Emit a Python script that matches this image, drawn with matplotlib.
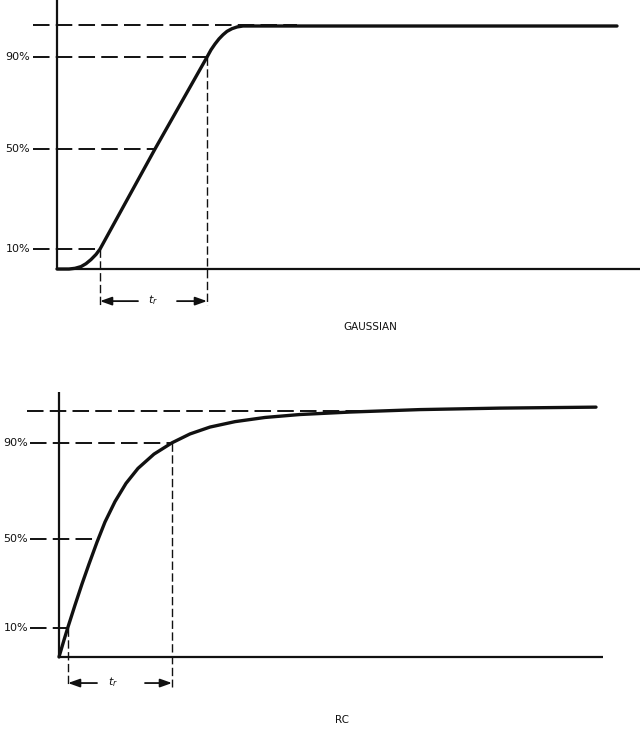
import matplotlib
matplotlib.use("Agg")
import matplotlib.pyplot as plt

# step responses (t in arbitrary units, v in % of final value)
gauss_t = [0.0, 1.2, 1.8, 2.4, 2.9, 3.4, 3.9, 4.3, 9.8, 15.0, 15.4, 15.8, 16.2,
           16.6, 17.0, 17.5, 18.0, 18.6, 56.0]
gauss_v = [0.0, 0.0, 0.3, 1.0, 2.2, 3.9, 6.0, 8.2, 49.4, 87.2, 90.2, 92.6, 94.7,
           96.4, 97.8, 98.9, 99.6, 100.0, 100.0]

rc_t = [0.0, 0.5, 0.9, 1.6, 2.3, 3.0, 3.8, 4.6, 5.6, 6.7, 7.9, 9.5, 11.3, 13.1,
        15.1, 17.6, 20.6, 24.1, 29.1, 36.1, 44.1, 53.7]
rc_v = [0.0, 6.9, 12.2, 21.1, 29.7, 37.8, 46.7, 54.9, 63.2, 70.6, 76.7, 82.5,
        87.1, 90.7, 93.5, 95.7, 97.4, 98.6, 99.6, 100.6, 101.2, 101.6]

level_labels = ["10%", "50%", "90%"]
gauss_levels = [8.2, 49.4, 87.2]
gauss_cross = [4.3, 9.8, 15.0]
rc_levels = [11.8, 48.0, 87.0]
rc_cross = [0.9, 3.95, 11.3]

gauss_final = 100.4
rc_final = 100.0

INK = "#111111"
DASH_H = (8.5, 3.2)
DASH_V = (6.0, 2.5)


def draw_panel(ax, t, v, levels, cross, final, final_span, dash_x0, label_x,
               axis_top, base_end, arrow_y, tail_l, tail_r, tr_x, name, name_xy):
    ax.set_axis_off()

    # axes drawn as plain lines
    ax.plot([0, 0], [0, axis_top], color=INK, lw=1.6, solid_capstyle="butt")
    ax.plot([0, base_end], [0, 0], color=INK, lw=1.6, solid_capstyle="butt")

    # final value reference
    ax.plot(final_span, [final, final], color=INK, lw=1.4, dashes=DASH_H)

    # level lines and labels
    for lab, lev, tx in zip(level_labels, levels, cross):
        ax.plot([dash_x0, tx], [lev, lev], color=INK, lw=1.4, dashes=DASH_H)
        ax.text(label_x, lev, lab, ha="right", va="center", fontsize=8,
                color=INK, family="DejaVu Sans")

    # response curve
    ax.plot(t, v, color=INK, lw=2.4, solid_joinstyle="round",
            solid_capstyle="round", zorder=5)

    # rise time markers
    t10, t90 = cross[0], cross[-1]
    lo = arrow_y - 1.8
    ax.plot([t10, t10], [levels[0], lo], color=INK, lw=1.0, dashes=DASH_V)
    ax.plot([t90, t90], [levels[-1], lo], color=INK, lw=1.0, dashes=DASH_V)
    arrow = dict(arrowstyle="-|>,head_length=0.7,head_width=0.25",
                 color=INK, lw=1.3, shrinkA=0, shrinkB=0)
    ax.annotate("", xy=(t10, arrow_y), xytext=(tail_l, arrow_y), arrowprops=arrow)
    ax.annotate("", xy=(t90, arrow_y), xytext=(tail_r, arrow_y), arrowprops=arrow)
    ax.text(tr_x, arrow_y + 0.5, "$t_r$", ha="center", va="center",
            fontsize=8, color=INK)

    ax.text(name_xy[0], name_xy[1], name, ha="center", va="center",
            fontsize=7.5, color=INK, family="DejaVu Sans")


fig = plt.figure(figsize=(6.4, 7.31), dpi=100)

ax_top = fig.add_axes([0, 1 - 340 / 731, 1, 340 / 731])
ax_top.set_xlim(-5.7, 58.3)
ax_top.set_ylim(-29.2, 110.7)
draw_panel(ax_top, gauss_t, gauss_v, gauss_levels, gauss_cross, gauss_final,
           [-2.4, 24.0], -2.4, -2.7, 110.7, 58.3, -13.2, 8.1, 12.0, 9.6,
           "GAUSSIAN", (31.3, -23.9))

ax_bot = fig.add_axes([0, 0, 1, 391 / 731])
ax_bot.set_xlim(-5.9, 58.1)
ax_bot.set_ylim(-30.1, 128.9)
draw_panel(ax_bot, rc_t, rc_v, rc_levels, rc_cross, rc_final,
           [-3.2, 32.1], -2.9, -3.1, 107.7, 54.4, -10.6, 3.8, 8.6, 5.4,
           "RC", (28.3, -25.6))

fig.savefig("out.png", dpi=100, facecolor="white")
